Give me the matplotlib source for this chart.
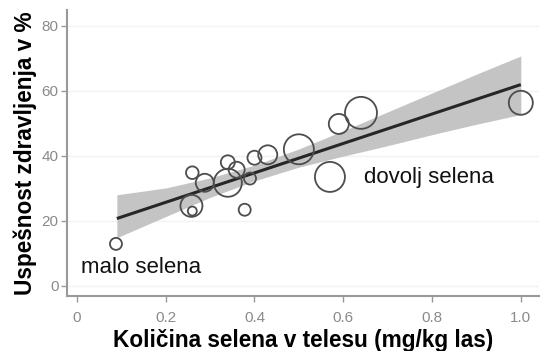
import matplotlib
matplotlib.use("Agg")
import matplotlib.pyplot as plt
import numpy as np

# Data
selen_x = [0.088, 0.258, 0.26, 0.26, 0.288, 0.34, 0.34, 0.36, 0.39, 0.378, 0.40, 0.43, 0.50, 0.57, 0.59, 0.64, 1.00]
uspeh_y = [12.9, 24.6, 23.0, 34.8, 31.7, 31.7, 38.0, 35.7, 33.0, 23.4, 39.4, 40.3, 42.0, 33.5, 49.8, 53.2, 56.3]
radius_px = [6, 11, 4.5, 6.3, 9, 14, 7, 8, 6, 6, 7, 9.5, 15, 15, 10, 16, 12]

fit_x = [0.09, 1.0]
fit_y = [20.7, 61.9]

band_x = [0.09, 0.2, 0.3, 0.4, 0.5, 0.6, 0.7, 0.8, 0.9, 1.0]
band_hi = [28.0, 30.1, 33.2, 37.1, 42.1, 47.7, 53.5, 59.3, 65.1, 70.7]
band_lo = [14.8, 21.3, 27.2, 32.3, 36.5, 39.9, 43.1, 46.5, 49.7, 52.7]

xticks = [0, 0.2, 0.4, 0.6, 0.8, 1.0]
xtick_labels = ["0", "0.2", "0.4", "0.6", "0.8", "1.0"]
yticks = [0, 20, 40, 60, 80]

plt.rcParams['font.family'] = ['Liberation Sans', 'DejaVu Sans']

fig = plt.figure(figsize=(5.44, 3.51), dpi=100)
ax = fig.add_axes([0.123, 0.157, 0.867, 0.815])

ax.set_xlim(-0.0225, 1.04)
ax.set_ylim(-3.1, 84.9)

for yv in yticks:
    ax.axhline(yv, color='#f2f2f2', lw=1.0, zorder=0)

ax.fill_between(band_x, band_lo, band_hi, color='#c4c4c4', lw=0, zorder=1)
ax.plot(fit_x, fit_y, color='#262626', lw=2.2, zorder=2, solid_capstyle='butt')

sizes = [(2 * r * 0.72) ** 2 for r in radius_px]
ax.scatter(selen_x, uspeh_y, s=sizes, facecolors='none', edgecolors='#4d4d4d', linewidths=1.3, zorder=3)

ax.text(0.009, 5.5, "malo selena", fontsize=16, color='#111111', va='center', ha='left')
ax.text(0.647, 33.2, "dovolj selena", fontsize=16, color='#111111', va='center', ha='left')

for s in ['top', 'right']:
    ax.spines[s].set_visible(False)
for s in ['left', 'bottom']:
    ax.spines[s].set_color('#999999')
    ax.spines[s].set_linewidth(1.5)

ax.set_xticks(xticks)
ax.set_xticklabels(xtick_labels)
ax.set_yticks(yticks)
ax.tick_params(axis='both', colors='#999999', labelcolor='#8a8a8a', labelsize=11, length=4, width=1, direction='out')
ax.tick_params(axis='x', pad=7)
ax.tick_params(axis='y', pad=2)

ax.set_xlabel("Količina selena v telesu (mg/kg las)", fontsize=16.3, fontweight='bold', labelpad=3)
ax.set_ylabel("Uspešnost zdravljenja v %", fontsize=16.3, fontweight='bold', labelpad=3)

fig.savefig("out.png", dpi=100)
